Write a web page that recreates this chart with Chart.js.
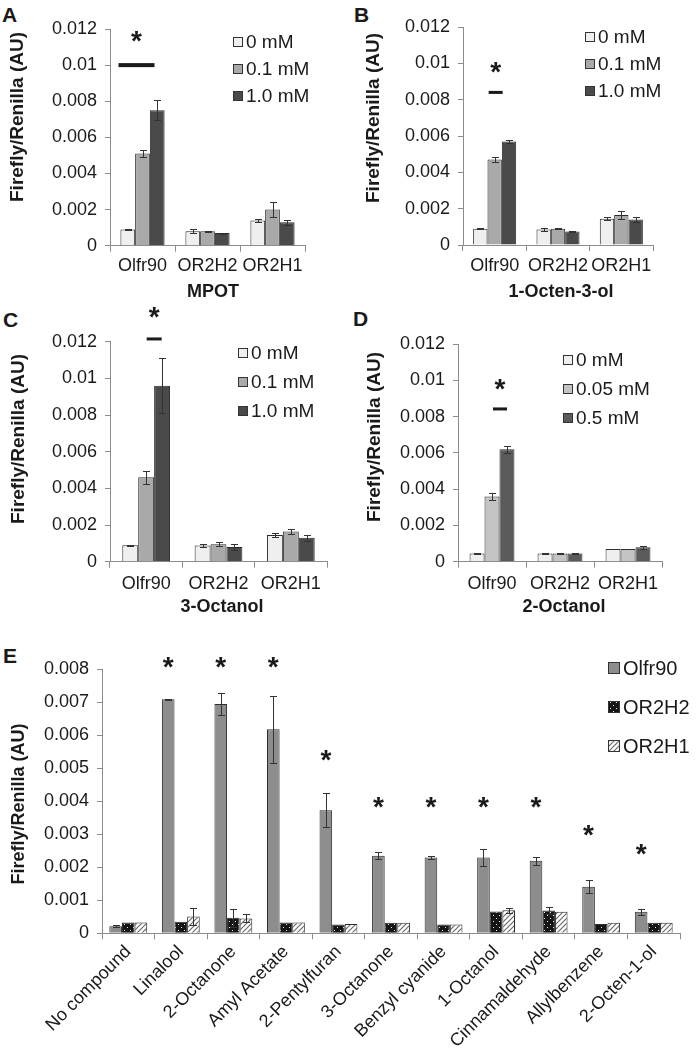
<!DOCTYPE html>
<html>
<head>
<meta charset="utf-8">
<script src="https://cdn.jsdelivr.net/npm/chart.js@4.4.1/dist/chart.umd.min.js"></script>
<style>
  body { margin: 0; background: #fff; width: 698px; height: 1058px; position: relative; overflow: hidden; }
  canvas { position: absolute; }
  .letter { position: absolute; font: bold 21px "Liberation Sans", Arial, sans-serif; color: #1a1a1a; line-height: 1; }
</style>
</head>
<body>
<div class="letter" style="left:2px;top:4px">A</div>
<div class="letter" style="left:354px;top:4px">B</div>
<div class="letter" style="left:3px;top:309px">C</div>
<div class="letter" style="left:353px;top:308px">D</div>
<div class="letter" style="left:3px;top:645px">E</div>
<canvas id="chartA" width="349" height="310" style="left:0;top:0"></canvas>
<canvas id="chartB" width="349" height="310" style="left:349px;top:0"></canvas>
<canvas id="chartC" width="349" height="320" style="left:0;top:300px"></canvas>
<canvas id="chartD" width="349" height="320" style="left:349px;top:300px"></canvas>
<canvas id="chartE" width="698" height="438" style="left:0;top:620px"></canvas>
<script>
// receptors on the x axis of panels A-D
var genes = ['Olfr90', 'OR2H2', 'OR2H1'];
var dosesHigh = ['0 mM', '0.1 mM', '1.0 mM'];
var dosesLow = ['0 mM', '0.05 mM', '0.5 mM'];

// one row per dose, one value per receptor
var mpotValues = [[0.0009, 0.0008, 0.0014], [0.0051, 0.0008, 0.002], [0.0075, 0.0007, 0.0013]];
var mpotErrors = [[0.00003, 0.0001, 0.00008], [0.0002, 0.00002, 0.0004], [0.00055, 0.00003, 0.00015]];
var octenolValues = [[0.0009, 0.00085, 0.00145], [0.0047, 0.0009, 0.00165], [0.0057, 0.00075, 0.0014]];
var octenolErrors = [[0.00003, 0.0001, 0.0001], [0.00015, 0.00002, 0.0002], [0.0001, 0.00003, 0.00015]];
var octanol3Values = [[0.0009, 0.00088, 0.00145], [0.0046, 0.00095, 0.00165], [0.0096, 0.0008, 0.0013]];
var octanol3Errors = [[0.00003, 0.0001, 0.0001], [0.00035, 0.0001, 0.00013], [0.0015, 0.00015, 0.00015]];
var octanol2Values = [[0.00045, 0.00045, 0.0007], [0.0036, 0.00045, 0.0007], [0.0062, 0.00045, 0.0008]];
var octanol2Errors = [[0.00003, 0.00001, 0.00002], [0.00018, 0.00002, 0.00002], [0.0002, 0.00001, 0.00008]];

// panel E
var compounds = ['No compound', 'Linalool', '2-Octanone', 'Amyl Acetate', '2-Pentylfuran', '3-Octanone',
  'Benzyl cyanide', '1-Octanol', 'Cinnamaldehyde', 'Allylbenzene', '2-Octen-1-ol'];
var receptorsE = ['Olfr90', 'OR2H2', 'OR2H1'];
var olfr90Values = [0.00021, 0.00709, 0.00695, 0.00618, 0.00373, 0.00235, 0.0023, 0.0023, 0.0022, 0.00141, 0.00065];
var olfr90Errors = [0.00003, 0.00002, 0.00033, 0.00102, 0.00051, 0.0001, 0.00005, 0.00025, 0.00012, 0.0002, 0.0001];
var or2h2Values = [0.00033, 0.00035, 0.00047, 0.00033, 0.00027, 0.00032, 0.00027, 0.00066, 0.00069, 0.00028, 0.00032];
var or2h2Errors = [0, 0, 0.00028, 0, 0, 0, 0, 0, 0.0001, 0, 0];
var or2h1Values = [0.00033, 0.00051, 0.00045, 0.00033, 0.00028, 0.00032, 0.00027, 0.0007, 0.00065, 0.00032, 0.00032];
var or2h1Errors = [0, 0.00025, 0.00012, 0, 0, 0, 0, 0.00008, 0, 0, 0];
var starLevelsE = [null, 0.00828, 0.00828, 0.00828, 0.00546, 0.00404, 0.00404, 0.00404, 0.00404, 0.0032, 0.00262];

var FONT = '"Liberation Sans", Arial, sans-serif';
Chart.defaults.font.family = FONT;
Chart.defaults.color = '#1a1a1a';
var AXIS = '#8c8c8c';

function tickLabel(v) { return String(parseFloat(v.toFixed(4))); }

function dotPattern() {
  var c = document.createElement('canvas');
  c.width = 6; c.height = 6;
  var g = c.getContext('2d');
  g.fillStyle = '#151515'; g.fillRect(0, 0, 6, 6);
  g.fillStyle = '#e8e8e8'; g.fillRect(1, 1, 1, 1); g.fillRect(4, 4, 1, 1);
  return g.createPattern(c, 'repeat');
}
function hatchPattern() {
  var c = document.createElement('canvas');
  c.width = 5; c.height = 5;
  var g = c.getContext('2d');
  g.fillStyle = '#fff'; g.fillRect(0, 0, 5, 5);
  g.strokeStyle = '#6a6a6a'; g.lineWidth = 1.2;
  g.beginPath(); g.moveTo(-1, 6); g.lineTo(6, -1); g.moveTo(-1, 1); g.lineTo(1, -1); g.moveTo(4, 6); g.lineTo(6, 4); g.stroke();
  return g.createPattern(c, 'repeat');
}

// error bars, stars, legend and axis titles, all placed through the chart scales
var decorPlugin = {
  id: 'decor',
  afterDatasetsDraw: function(chart, args, opts) {
    var ctx = chart.ctx, ys = chart.scales.y, xs = chart.scales.x;
    ctx.save();
    ctx.strokeStyle = '#333'; ctx.lineWidth = 1;
    chart.data.datasets.forEach(function(ds, i) {
      chart.getDatasetMeta(i).data.forEach(function(bar, j) {
        var e = ds.errors[j];
        if (!e) return;
        var t = Math.round(ys.getPixelForValue(ds.data[j] + e)) + 0.5;
        var b = Math.round(ys.getPixelForValue(ds.data[j] - e)) + 0.5;
        var x = Math.round(bar.x) + 0.5;
        ctx.beginPath();
        ctx.moveTo(x, t); ctx.lineTo(x, b);
        ctx.moveTo(x - 3.5, t); ctx.lineTo(x + 3.5, t);
        ctx.moveTo(x - 3.5, b); ctx.lineTo(x + 3.5, b);
        ctx.stroke();
      });
    });
    ctx.fillStyle = '#1a1a1a';
    ctx.textAlign = 'center'; ctx.textBaseline = 'alphabetic';
    ctx.font = 'bold ' + opts.starSize + 'px ' + FONT;
    (opts.stars || []).forEach(function(s) {
      var x = s.bar ? chart.getDatasetMeta(0).data[s.cat].x : xs.getPixelForValue(s.cat) + s.dx;
      ctx.fillText('*', x, ys.getPixelForValue(s.star) + opts.starSize * 0.57);
      if (s.line) {
        ctx.fillRect(x - s.half, ys.getPixelForValue(s.line) - s.thick / 2, s.half * 2, s.thick);
      }
    });
    var lg = opts.legend;
    ctx.font = lg.size + 'px ' + FONT;
    ctx.textAlign = 'left'; ctx.textBaseline = 'middle';
    chart.data.datasets.forEach(function(ds, i) {
      var y = lg.y + i * lg.dy;
      ctx.fillStyle = ds.backgroundColor;
      ctx.fillRect(lg.x, y - lg.box / 2, lg.box, lg.box);
      ctx.strokeStyle = '#333';
      ctx.strokeRect(lg.x + 0.5, y - lg.box / 2 + 0.5, lg.box - 1, lg.box - 1);
      ctx.fillStyle = '#1a1a1a';
      ctx.fillText(ds.label, lg.x + lg.box + 3, y + 1);
    });
    ctx.font = 'bold ' + opts.yTitle.size + 'px ' + FONT;
    ctx.textAlign = 'center';
    ctx.save();
    ctx.translate(opts.yTitle.x, opts.yTitle.y);
    ctx.rotate(-Math.PI / 2);
    ctx.fillText('Firefly/Renilla (AU)', 0, 0);
    ctx.restore();
    if (opts.xTitle) {
      ctx.font = 'bold 18px ' + FONT;
      ctx.fillText(opts.xTitle.text, opts.xTitle.x, opts.xTitle.y);
    }
    ctx.restore();
  }
};

function baseScales(p) {
  return {
    x: {
      grid: { offset: true, drawOnChartArea: false, tickLength: 6, color: AXIS },
      border: { color: AXIS },
      ticks: { font: { size: 18 }, padding: p.tickPad, autoSkip: false, maxRotation: p.rot, minRotation: p.rot },
      afterFit: function(s) { s.height = p.xh; }
    },
    y: {
      min: 0, max: p.max,
      grid: { drawOnChartArea: false, tickLength: 5, color: AXIS },
      border: { color: AXIS },
      ticks: { stepSize: p.step, font: { size: 18 }, padding: 8, callback: tickLabel },
      afterFit: function(s) { s.width = p.left; }
    }
  };
}

function panelChart(id, p) {
  var sets = p.series.map(function(name, i) {
    return { label: name, data: p.values[i], errors: p.errors[i], backgroundColor: p.fills[i],
      borderColor: '#2b2b2b', borderWidth: 1 };
  });
  return new Chart(document.getElementById(id), {
    type: 'bar',
    data: { labels: p.labels, datasets: sets },
    options: {
      responsive: false, animation: false,
      layout: { padding: { left: 0, top: p.top, right: p.right, bottom: 0 } },
      datasets: { bar: { categoryPercentage: p.cat, barPercentage: 1 } },
      plugins: { legend: { display: false }, tooltip: { enabled: false }, decor: p.decor },
      scales: baseScales(p)
    },
    plugins: [decorPlugin]
  });
}

var fillsHigh = ['#efefef', '#a9a9a9', '#4a4a4a'];
var fillsLow = ['#efefef', '#c4c4c4', '#5a5a5a'];

panelChart('chartA', {
  labels: genes, series: dosesHigh, values: mpotValues, errors: mpotErrors, fills: fillsHigh,
  top: 29, right: 44, left: 110, xh: 64.3, max: 0.012, step: 0.002, cat: 0.68, tickPad: 4, rot: 0,
  decor: { starSize: 28,
    stars: [{ cat: 0, dx: -6, star: 0.0117, line: 0.01, half: 18, thick: 4 }],
    legend: { x: 233, y: 42, dy: 27, box: 10, size: 19 },
    yTitle: { x: 18, y: 117, size: 19 }, xTitle: { text: 'MPOT', x: 213, y: 292 } }
});
panelChart('chartB', {
  labels: genes, series: dosesHigh, values: octenolValues, errors: octenolErrors, fills: fillsHigh,
  top: 27, right: 45, left: 114, xh: 65, max: 0.012, step: 0.002, cat: 0.68, tickPad: 4, rot: 0,
  decor: { starSize: 28,
    stars: [{ cat: 0, dx: 1, star: 0.0099, line: 0.0084, half: 7, thick: 3 }],
    legend: { x: 236, y: 37, dy: 27, box: 10, size: 19 },
    yTitle: { x: 25, y: 118, size: 19 }, xTitle: { text: '1-Octen-3-ol', x: 212, y: 292 } }
});
panelChart('chartC', {
  labels: genes, series: dosesHigh, values: octanol3Values, errors: octanol3Errors, fills: fillsHigh,
  top: 41.7, right: 22, left: 110, xh: 58.3, max: 0.012, step: 0.002, cat: 0.66, tickPad: 6, rot: 0,
  decor: { starSize: 28,
    stars: [{ cat: 0, dx: 8, star: 0.0137, line: 0.01215, half: 7.5, thick: 3 }],
    legend: { x: 238, y: 53, dy: 29, box: 10, size: 19 },
    yTitle: { x: 19, y: 139, size: 19 }, xTitle: { text: '3-Octanol', x: 222, y: 307 } }
});
panelChart('chartD', {
  labels: genes, series: dosesLow, values: octanol2Values, errors: octanol2Errors, fills: fillsLow,
  top: 44, right: 36, left: 109, xh: 58.3, max: 0.012, step: 0.002, cat: 0.66, tickPad: 6, rot: 0,
  decor: { starSize: 28,
    stars: [{ cat: 0, dx: 8, star: 0.0099, line: 0.00842, half: 7, thick: 3 }],
    legend: { x: 214, y: 60, dy: 29, box: 10, size: 19 },
    yTitle: { x: 26, y: 137, size: 19 }, xTitle: { text: '2-Octanol', x: 215, y: 307 } }
});

var starsE = [];
starLevelsE.forEach(function(v, i) { if (v !== null) starsE.push({ cat: i, bar: true, star: v }); });

panelChart('chartE', {
  labels: compounds, series: receptorsE,
  values: [olfr90Values, or2h2Values, or2h1Values],
  errors: [olfr90Errors, or2h2Errors, or2h1Errors],
  fills: ['#8d8d8d', dotPattern(), hatchPattern()],
  top: 49.3, right: 18, left: 102, xh: 124.7, max: 0.008, step: 0.001, cat: 0.72, tickPad: 2, rot: 45,
  decor: { starSize: 28, stars: starsE,
    legend: { x: 608, y: 48, dy: 39, box: 12, size: 20 },
    yTitle: { x: 19, y: 184, size: 18 } }
});
</script>
</body>
</html>
